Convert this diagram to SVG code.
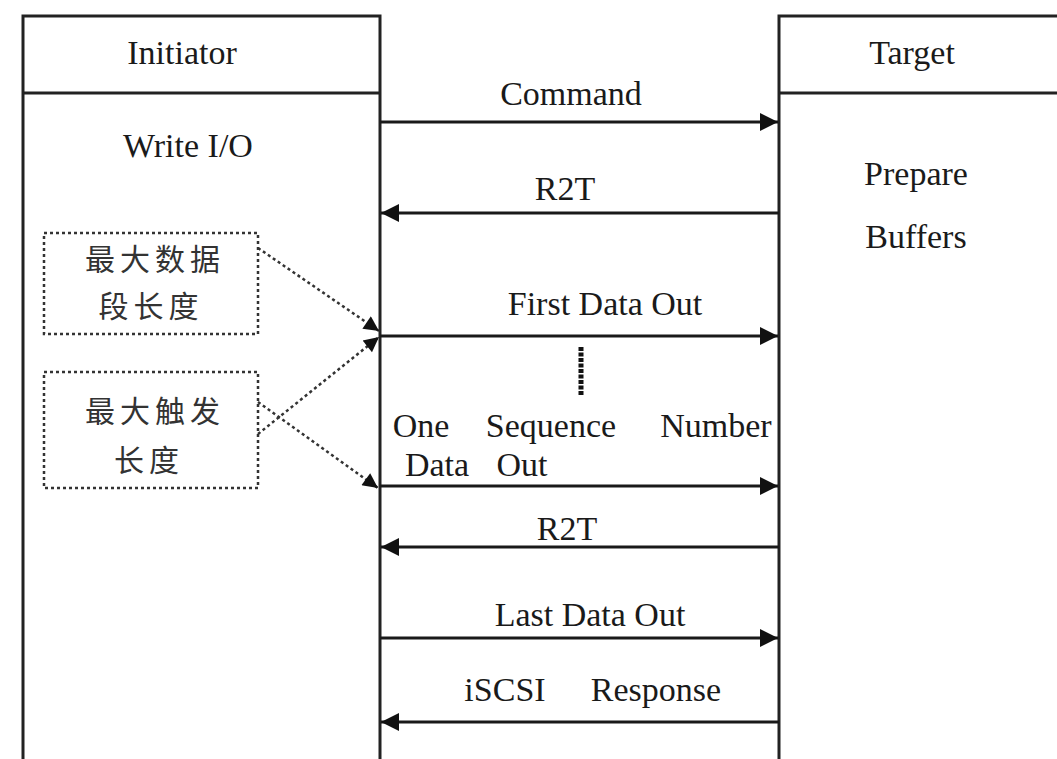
<svg xmlns="http://www.w3.org/2000/svg" width="1057" height="759" viewBox="0 0 1057 759">
<style>
.lane{fill:none;stroke:#222;stroke-width:3}
.t{font-family:"Liberation Serif","Times New Roman",serif;font-size:34px;fill:#1a1a1a;text-anchor:middle}
.c{font-family:"Liberation Serif","Noto Sans CJK SC",sans-serif;font-size:30px;fill:#333;text-anchor:middle;letter-spacing:5px}
.dbox{fill:none;stroke:#333;stroke-width:2.5;stroke-dasharray:3 3}
.msg{stroke:#1a1a1a;stroke-width:3;fill:none}
.dash{stroke:#333;stroke-width:2.5;stroke-dasharray:3 3;fill:none}
</style>
<defs>
<marker id="ah" viewBox="0 0 10 10" refX="10" refY="5" markerWidth="7" markerHeight="6" markerUnits="strokeWidth" orient="auto">
<path d="M0,0 L10,5 L0,10 z" fill="#111"/>
</marker>
<marker id="ahd" viewBox="0 0 10 10" refX="10" refY="5" markerWidth="7" markerHeight="6" markerUnits="strokeWidth" orient="auto">
<path d="M0,0 L10,5 L0,10 z" fill="#111"/>
</marker>
</defs>
<rect width="1057" height="759" fill="#fff"/>
<g id="initiator">
<path class="lane" d="M23,759 V16 H380 V759 M23,93 H380"/>
<text class="t" x="182" y="64">Initiator</text>
<text class="t" x="188" y="157">Write I/O</text>
</g>
<g id="target">
<path class="lane" d="M779,759 V16 H1060 M779,93 H1060"/>
<text class="t" x="912" y="64">Target</text>
<text class="t" x="916" y="185">Prepare</text>
<text class="t" x="916" y="248">Buffers</text>
</g>
<g id="max-data-segment">
<rect class="dbox" x="44" y="233" width="214" height="101"/>
<text class="c" x="155" y="270">最大数据</text>
<text class="c" x="151" y="317">段长度</text>
</g>
<g id="max-burst">
<rect class="dbox" x="44" y="372" width="214" height="116"/>
<text class="c" x="155" y="422">最大触发</text>
<text class="c" x="149" y="471">长度</text>
</g>
<g id="connectors">
<line class="msg" x1="380" y1="122" x2="778" y2="122" marker-end="url(#ah)"/>
<line class="msg" x1="779" y1="213" x2="381" y2="213" marker-end="url(#ah)"/>
<line class="msg" x1="380" y1="336" x2="778" y2="336" marker-end="url(#ah)"/>
<line class="msg" x1="380" y1="486" x2="778" y2="486" marker-end="url(#ah)"/>
<line class="msg" x1="779" y1="547" x2="381" y2="547" marker-end="url(#ah)"/>
<line class="msg" x1="380" y1="638" x2="778" y2="638" marker-end="url(#ah)"/>
<line class="msg" x1="779" y1="722" x2="381" y2="722" marker-end="url(#ah)"/>
<line x1="581" y1="347" x2="581" y2="396" stroke="#111" stroke-width="5" stroke-dasharray="4 1.5"/>
<line class="dash" x1="258" y1="248" x2="379" y2="331" marker-end="url(#ahd)"/>
<line class="dash" x1="258" y1="434" x2="379" y2="337" marker-end="url(#ahd)"/>
<line class="dash" x1="258" y1="402" x2="378" y2="488" marker-end="url(#ahd)"/>
<text class="t" x="571" y="105">Command</text>
<text class="t" x="565" y="200">R2T</text>
<text class="t" x="605" y="315">First Data Out</text>
<text class="t" x="421" y="437">One</text>
<text class="t" x="551" y="437">Sequence</text>
<text class="t" x="716" y="437">Number</text>
<text class="t" x="437" y="476">Data</text>
<text class="t" x="522" y="476">Out</text>
<text class="t" x="567" y="540">R2T</text>
<text class="t" x="590" y="626">Last Data Out</text>
<text class="t" x="505" y="701">iSCSI</text>
<text class="t" x="656" y="701">Response</text>
</g>
</svg>
